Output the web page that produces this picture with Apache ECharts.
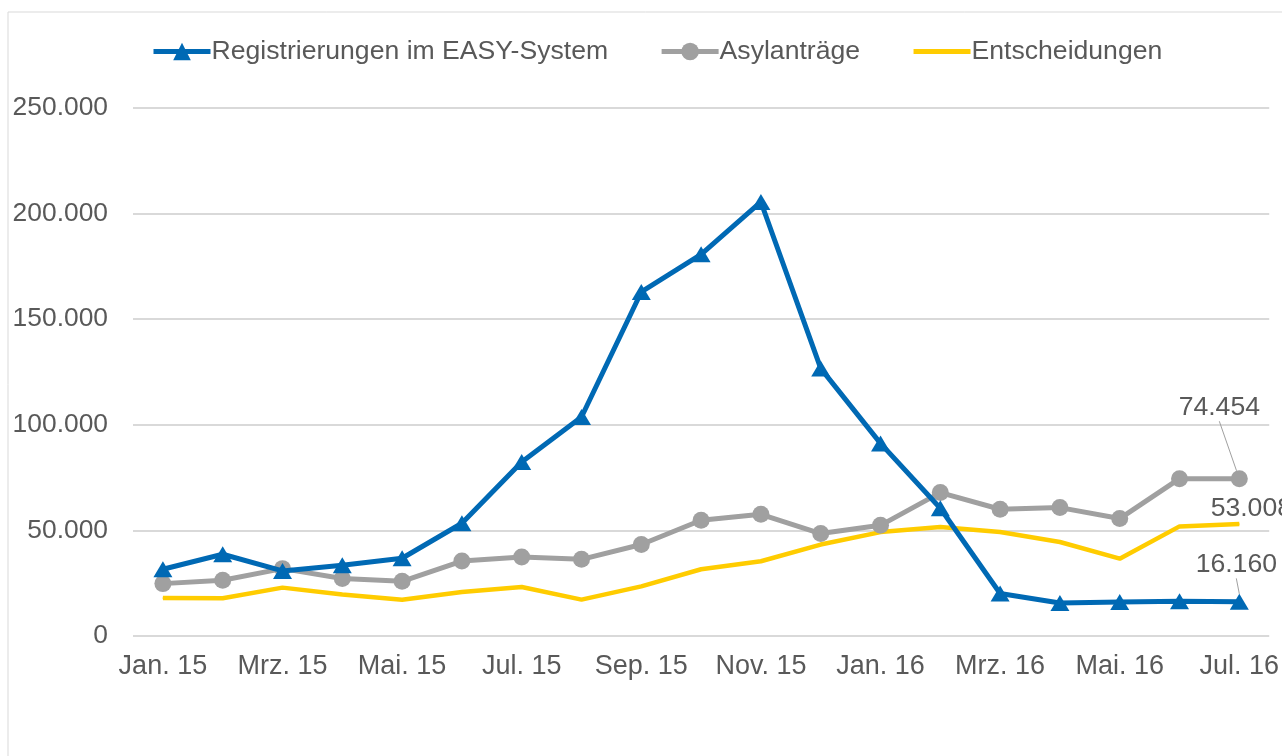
<!DOCTYPE html>
<html>
<head>
<meta charset="utf-8">
<script src="https://cdn.jsdelivr.net/npm/echarts@6/dist/echarts.min.js"></script>
<style>
html,body{margin:0;padding:0;background:#fff;}
#chart{width:1282px;height:756px;}
</style>
</head>
<body>
<div id="chart"></div>
<script>
const categories = ['Jan. 15','Feb. 15','Mrz. 15','Apr. 15','Mai. 15','Jun. 15','Jul. 15','Aug. 15','Sep. 15','Okt. 15','Nov. 15','Dez. 15','Jan. 16','Feb. 16','Mrz. 16','Apr. 16','Mai. 16','Jun. 16','Jul. 16'];
const registrierungen = [31600, 38700, 30800, 33500, 36800, 53400, 82400, 103700, 162900, 180700, 205500, 126700, 91200, 60500, 20100, 15600, 16100, 16400, 16160];
const asylantraege = [24800, 26400, 31900, 27200, 25900, 35500, 37400, 36300, 43300, 54800, 57600, 48500, 52400, 67900, 60000, 60800, 55600, 74500, 74454];
const entscheidungen = [18000, 17900, 22900, 19700, 17200, 20800, 23200, 17200, 23500, 31600, 35400, 43300, 49200, 51600, 49200, 44500, 36600, 51900, 53008];
const yTicks = [0, 50000, 100000, 150000, 200000, 250000];

const txt = '#595959';
const fnt = 'Liberation Sans, Arial, sans-serif';
const fs = 26.6;
function fmt(v){ return String(v).replace(/\B(?=(\d{3})+(?!\d))/g, '.'); }
function lastLabel(arr){
  return arr.map((v,i)=> i===arr.length-1 ? {value:v, label:{show:true}} : v);
}

const chart = echarts.init(document.getElementById('chart'));
chart.setOption({
  animation:false,
  backgroundColor:'#fff',
  textStyle:{fontFamily:fnt},
  graphic:[{type:'rect', shape:{x:8,y:12,width:1400,height:900}, style:{fill:'none', stroke:'#d9d9d9', lineWidth:1}, silent:true, z:-1}],
  legend:{
    left:146, top:33,
    itemWidth:57, itemHeight:22, itemGap:51,
    textStyle:{color:txt, fontSize:fs, fontFamily:fnt, padding:[0,0,0,-4]},
    data:[
      {name:'Registrierungen im EASY-System', lineStyle:{width:5}},
      {name:'Asylanträge', lineStyle:{width:5}},
      {name:'Entscheidungen', lineStyle:{width:5}, itemStyle:{opacity:0}}
    ]
  },
  grid:{left:133, right:9, top:108, bottom:120, containLabel:false},
  xAxis:{
    type:'category', data:categories, boundaryGap:true,
    axisLine:{show:false}, axisTick:{show:false},
    axisLabel:{interval:1, color:txt, fontSize:27, fontFamily:fnt, margin:17}
  },
  yAxis:{
    type:'value', min:yTicks[0], max:yTicks[yTicks.length-1], interval:50000,
    axisLine:{show:false}, axisTick:{show:false},
    splitLine:{lineStyle:{color:'#d9d9d9', width:2}},
    axisLabel:{color:txt, fontSize:26.4, fontFamily:fnt, margin:25, formatter:fmt}
  },
  series:[
    {
      name:'Entscheidungen', type:'line', data:lastLabel(entscheidungen), z:2,
      symbol:'circle', symbolSize:1, showSymbol:true,
      lineStyle:{color:'#ffcc00', width:4.5}, itemStyle:{color:'#ffcc00'},
      label:{show:false, position:'inside', color:txt, fontSize:fs, fontFamily:fnt, formatter:p=>fmt(p.value)},
      labelLayout:{dx:12, dy:-15}
    },
    {
      name:'Asylanträge', type:'line', data:lastLabel(asylantraege), z:3,
      symbol:'circle', symbolSize:17,
      lineStyle:{color:'#a0a0a0', width:5}, itemStyle:{color:'#a0a0a0'},
      label:{show:false, position:'inside', color:txt, fontSize:fs, fontFamily:fnt, formatter:p=>fmt(p.value)},
      labelLayout:{dx:-20, dy:-71},
      labelLine:{show:true, lineStyle:{color:'#a0a0a0', width:1}}
    },
    {
      name:'Registrierungen im EASY-System', type:'line', data:lastLabel(registrierungen), z:4,
      symbol:'triangle', symbolSize:[19,16],
      lineStyle:{color:'#0069b4', width:5}, itemStyle:{color:'#0069b4'},
      label:{show:false, position:'inside', color:txt, fontSize:fs, fontFamily:fnt, formatter:p=>fmt(p.value)},
      labelLayout:{dx:-3, dy:-37},
      labelLine:{show:true, lineStyle:{color:'#a0a0a0', width:1}}
    }
  ]
});
</script>
</body>
</html>
